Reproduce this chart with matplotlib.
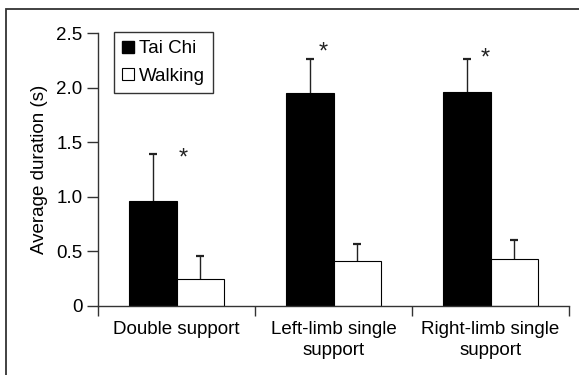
import numpy as np
import matplotlib
matplotlib.use('Agg')
import matplotlib.pyplot as plt
from matplotlib.lines import Line2D
from matplotlib.patches import Rectangle

plt.rcParams['font.family'] = ['Liberation Sans', 'DejaVu Sans']

categories = ['Double support', 'Left-limb single\nsupport', 'Right-limb single\nsupport']
taichi = np.array([0.96, 1.95, 1.96])
taichi_sd = np.array([0.43, 0.31, 0.305])
walking = np.array([0.25, 0.41, 0.43])
walking_sd = np.array([0.21, 0.155, 0.17])
yticks = [0, 0.5, 1.0, 1.5, 2.0, 2.5]
ytick_labels = ['0', '0.5', '1.0', '1.5', '2.0', '2.5']

fs = 13.5

fig = plt.figure(figsize=(5.79, 3.75), dpi=100)
ax = fig.add_axes([98/579, 69/375, 471/579, 273/375])

x = np.arange(len(categories)) + 0.5
w = 0.3
ax.bar(x - w/2, taichi, w, color='black', edgecolor='black', linewidth=0.8, zorder=2)
ax.bar(x + w/2, walking, w, color='white', edgecolor='black', linewidth=0.8, zorder=2)

# upward-only error bars
cw = 0.025
for xs, v, sd in [(x - w/2, taichi, taichi_sd), (x + w/2, walking, walking_sd)]:
    ax.vlines(xs, v, v + sd, color='#222222', lw=1, zorder=1)
    ax.hlines(v + sd, xs - cw, xs + cw, color='#222222', lw=1.6, zorder=1)

# significance stars
star_dx = [0.19, 0.083, 0.115]
star_dy = [-0.04, 0.06, 0.005]
for i in range(3):
    ax.text(x[i] - w/2 + star_dx[i], taichi[i] + taichi_sd[i] + star_dy[i], '*',
            ha='center', va='center', fontsize=17, color='#222222')

ax.set_xlim(0, 3)
ax.set_ylim(0, 2.5)
ax.set_yticks(yticks)
ax.set_yticklabels(ytick_labels)
ax.set_xticks([0, 1, 2, 3])
ax.set_xticklabels([])
ax.set_xticks(x, minor=True)
ax.set_xticklabels(categories, minor=True, linespacing=1.25)
ax.tick_params(axis='x', which='minor', length=0, pad=11, labelsize=fs)
ax.tick_params(axis='x', which='major', length=7, width=1, color='#333333')
ax.tick_params(axis='y', length=8, width=1, color='#333333', labelsize=fs, pad=3)
for s in ['top', 'right']:
    ax.spines[s].set_visible(False)
for s in ['left', 'bottom']:
    ax.spines[s].set_color('#333333')
    ax.spines[s].set_linewidth(1)
ax.set_ylabel('Average duration (s)', fontsize=fs, labelpad=6)

handles = [Line2D([], [], marker='s', ls='none', markerfacecolor='black', markeredgecolor='black', markersize=9),
           Line2D([], [], marker='s', ls='none', markerfacecolor='white', markeredgecolor='black', markersize=9, markeredgewidth=0.8)]
leg = ax.legend(handles, ['Tai Chi', 'Walking'], loc='upper left', bbox_to_anchor=(0.033, 1.005),
                fontsize=fs, fancybox=False, framealpha=1, edgecolor='#333333',
                handlelength=0.6, handletextpad=0.3, borderpad=0.45, labelspacing=0.55,
                borderaxespad=0)
leg.get_frame().set_linewidth(1)

# outer frame (cropped box)
fig.patches.append(Rectangle((5.5/579, -0.1), 1.2, (375 - 9)/375 + 0.1, transform=fig.transFigure,
                             fill=False, edgecolor='#333333', linewidth=1.3))

fig.savefig('out.png', dpi=100)
